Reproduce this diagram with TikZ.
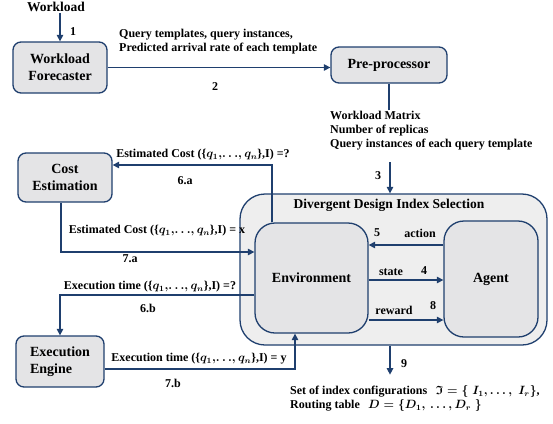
\documentclass[tikz,border=0pt]{standalone}
\usepackage{amsmath}
\usepackage{amssymb}
\usepackage{fontspec}
\setmainfont{Liberation Serif}
\usetikzlibrary{arrows.meta}
\definecolor{navy}{HTML}{1F3F6E}
\definecolor{boxgray}{HTML}{E4E4E6}
\definecolor{outergray}{HTML}{EEEEEE}
\newcommand{\qset}{\{$q_1,\!\ldots\!,q_n$\}}

\begin{document}
\begin{tikzpicture}[x=1pt,y=-1pt,
    every node/.style={font=\bfseries\boldmath\fontsize{12}{14}\selectfont, inner sep=1pt},
    box/.style={draw=navy, fill=boxgray, line width=1.3pt, rounded corners=8pt, align=center,
      font=\bfseries\fontsize{14}{17}\selectfont},
    >={Triangle[width=6.5pt,length=6.5pt]},
    arr/.style={draw=navy, line width=1.3pt}]
  \useasboundingbox (0,0) rectangle (553,423);
      \node[box, minimum width=94pt, minimum height=51pt] (F) at (60,67.5) {Workload\\Forecaster};
      \node[box, minimum width=116pt, minimum height=36pt] (P) at (389,65) {Pre-processor};
      \node[box, minimum width=94pt, minimum height=49pt] (C) at (65,177.5) {Cost\\Estimation};
      \node[box, minimum width=88pt, minimum height=51pt, align=left] (X) at (60,361.5) {Execution\\Engine};
      \node[box, fill=outergray, rounded corners=25pt, minimum width=307pt, minimum height=151pt] (D) at (393.5,269.5) {};
      \node[box, rounded corners=20pt, minimum width=113pt, minimum height=110pt] (E) at (311.5,278) {Environment};
      \node[box, rounded corners=20pt, minimum width=94pt, minimum height=116pt] (A) at (491,279) {Agent};
      \node (T) at (389,205) {\fontsize{13.5}{16}\selectfont Divergent Design Index Selection};
      \node (W) at (56,7) {\fontsize{13.5}{16}\selectfont Workload};
      \node[anchor=north west, align=left] (Q) at (118,28) {Query templates, query instances,\\Predicted arrival rate of each template};
      \node[anchor=north west, align=left] (M) at (329,110) {Workload Matrix\\Number of replicas\\Query instances of each query template};
      \node[anchor=north west, align=left] (R) at (289,384) {Set of index configurations\;\, $\mathfrak{I}=\{\;I_1,\ldots,\;I_r\}$,\\Routing table\;\, $D=\{D_1,\,\ldots,D_r\;\}$};
      \coordinate (c3) at (390,162);
      \draw[arr,->] (W.south -| F.north) -- (F.north);
      \draw[arr,->] (F.east) -- (F.east -| P.west);
      \draw[arr] (P.south) -- (P.south |- M.north);
      \draw[arr,->] (c3) -- (c3 |- D.north);
      \draw[arr,->] (A.west |- 0,245) -- (E.east |- 0,245);
      \draw[arr,->] (E.east |- 0,280) -- (A.west |- 0,280);
      \draw[arr,->] (E.east |- 0,320) -- (A.west |- 0,320);
      \draw[arr,->] (E.north -| 272,0) |- (C.east |- 0,165);
      \draw[arr,->] (C.south -| 61,0) |- (E.west |- 0,252);
      \draw[arr,->] (E.west |- 0,295) -| (X.north);
      \draw[arr,->] (X.east |- 0,369) -| (E.south -| 295,0);
      \draw[arr,->] (D.south -| 390,0) -- ++(0,29);
      \node at (73,32) {1};
      \node at (215,87) {2};
      \node at (378,176) {3};
      \node at (377,233) {5};
      \node at (420,233) {action};
      \node at (391,272) {state};
      \node at (424,271) {4};
      \node at (394,310) {reward};
      \node at (433,306) {8};
      \node at (203,155) {Estimated Cost (\qset,I) =?};
      \node at (185,181) {6.a};
      \node at (157,231) {Estimated Cost (\qset,I) = x};
      \node at (130,259) {7.a};
      \node at (150,287) {Execution time (\qset,I) =?};
      \node at (148,308) {6.b};
      \node at (199,359) {Execution time (\qset,I) = y};
      \node at (173,383) {7.b};
      \node at (404,364) {9};
\end{tikzpicture}
\end{document}
